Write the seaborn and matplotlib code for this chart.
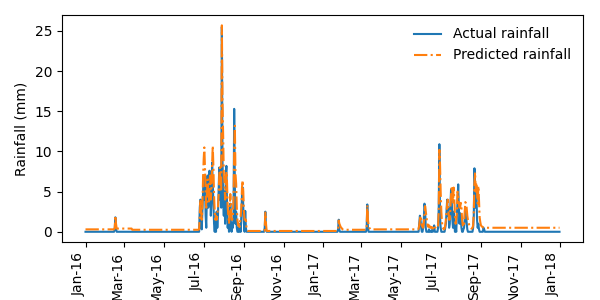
import pandas as pd
import numpy as np
import matplotlib
matplotlib.use("Agg")
import matplotlib.pyplot as plt
import matplotlib.dates as mdates
import seaborn as sns

# Daily record, Jan 2016 - Dec 2017
first_day = "2016-01-01"
last_day = "2017-12-31"

# Predicted rainfall on dry days (actual is 0 there), read as flat levels
pred_base_start = ["2016-01-01", "2016-02-18", "2016-03-13", "2016-09-07",
                   "2017-01-27", "2017-03-12", "2017-09-08"]
pred_base_end = ["2016-02-17", "2016-03-12", "2016-06-23", "2017-01-26",
                 "2017-03-11", "2017-05-26", "2017-12-31"]
pred_base_level = [0.3, 0.4, 0.25, 0.1, 0.25, 0.3, 0.5]

# Rain spells: first day of each spell, then daily actual / predicted values
spell_start = ["2016-02-15", "2016-06-24", "2016-10-03", "2017-01-24",
               "2017-03-09", "2017-05-27"]

feb16_actual = [0.3, 1.8, 0.4]
feb16_pred = [0.5, 2.0, 1.0]

wet16_actual = [0.0, 3.0, 4.0, 1.0, 0.3, 2.5, 5.0, 7.0, 4.0, 6.5,
                2.0, 0.5, 5.0, 7.0, 3.0, 4.5, 7.6, 6.0, 2.0, 4.0,
                8.6, 6.0, 3.0, 1.0, 0.0, 1.5, 0.0, 2.5, 0.5, 2.0,
                5.0, 8.0, 4.0, 6.0, 3.0, 25.5, 9.0, 4.0, 2.0, 5.0,
                1.0, 7.0, 8.2, 3.0, 0.5, 1.5, 0.0, 0.5, 3.5, 1.0,
                0.0, 1.0, 0.5, 2.0, 15.3, 6.0, 1.0, 2.5, 0.5, 0.0,
                0.0, 0.5, 0.0, 1.0, 0.0, 2.0, 4.5, 5.5, 3.0, 1.0,
                0.0, 2.6, 0.5, 0.0, 0.0]
wet16_pred = [0.3, 2.0, 4.0, 3.0, 1.5, 3.0, 6.5, 9.0, 10.5, 8.0,
              5.0, 3.0, 4.5, 6.5, 5.0, 3.5, 6.5, 7.0, 4.0, 5.5,
              8.5, 10.7, 8.0, 4.5, 2.5, 1.5, 2.0, 1.5, 2.0, 3.0,
              4.5, 7.0, 8.0, 5.0, 5.0, 25.7, 16.1, 12.0, 7.0, 6.5,
              4.0, 5.0, 7.5, 6.0, 3.0, 2.0, 1.0, 2.5, 4.7, 3.0,
              1.5, 1.5, 2.0, 4.0, 10.0, 13.2, 7.2, 6.0, 3.0, 1.5,
              0.8, 1.0, 0.6, 1.2, 2.0, 3.0, 5.5, 6.4, 5.0, 2.5,
              1.5, 1.5, 1.5, 0.5, 0.2]

oct16_actual = [0.5, 2.5, 0.3]
oct16_pred = [0.3, 2.4, 1.0]

jan17_actual = [0.3, 1.5, 0.2, 0.0, 0.0, 0.0, 0.0, 0.0]
jan17_pred = [0.3, 1.4, 1.0, 0.8, 0.6, 0.5, 0.4, 0.3]

mar17_actual = [0.5, 3.4, 0.5, 0.0, 0.0, 0.0]
mar17_pred = [0.5, 3.3, 1.5, 0.8, 0.5, 0.4]

wet17_actual = [0.0, 0.0, 1.0, 2.0, 1.5, 0.5, 0.0, 0.0, 0.5, 1.5,
                3.5, 3.0, 0.5, 0.0, 0.0, 0.0, 0.0, 0.3, 0.0, 0.0,
                0.0, 0.2, 0.0, 0.0, 0.5, 0.8, 0.0, 0.0, 0.0, 0.0,
                0.0, 0.5, 3.0, 10.9, 2.0, 0.5, 0.0, 0.0, 0.0, 0.0,
                0.0, 0.0, 0.5, 1.0, 2.5, 4.0, 2.0, 3.0, 0.5, 1.0,
                3.0, 5.3, 4.0, 1.5, 0.5, 2.5, 1.0, 0.0, 0.5, 0.0,
                2.0, 4.0, 5.9, 3.0, 1.0, 2.3, 1.5, 0.5, 0.0, 0.0,
                0.3, 0.5, 1.5, 2.9, 2.0, 1.0, 0.3, 0.0, 0.0, 0.0,
                0.0, 0.0, 0.0, 0.0, 0.0, 0.5, 2.0, 7.9, 6.0, 3.0,
                5.1, 1.5, 0.5, 1.0, 0.3, 0.0, 0.0, 0.0, 0.0, 0.0,
                0.0, 0.5, 0.3, 0.0]
wet17_pred = [0.3, 0.4, 0.8, 1.5, 2.0, 1.5, 0.8, 0.6, 0.5, 1.0,
              2.0, 3.2, 2.5, 2.0, 1.2, 0.8, 0.6, 0.8, 0.7, 0.5,
              0.5, 0.6, 0.5, 0.4, 0.6, 0.8, 0.6, 0.5, 0.4, 0.4,
              0.5, 0.8, 2.5, 10.2, 8.4, 5.0, 2.5, 1.2, 0.6, 0.4,
              0.3, 0.4, 0.8, 1.5, 2.5, 3.5, 4.0, 2.5, 1.5, 1.5,
              3.0, 4.5, 5.7, 5.0, 3.5, 5.5, 4.0, 2.0, 1.0, 1.5,
              2.5, 5.0, 4.5, 3.5, 3.0, 3.0, 3.6, 3.0, 1.5, 0.8,
              0.6, 1.0, 2.5, 3.7, 3.5, 3.0, 2.0, 1.5, 1.2, 0.8,
              0.6, 0.5, 0.4, 0.4, 0.5, 0.8, 2.5, 6.0, 7.4, 5.0,
              6.1, 5.0, 3.5, 5.7, 4.0, 1.8, 1.2, 0.8, 0.7, 0.6,
              0.6, 0.5, 0.5, 0.5]

spell_actual = [feb16_actual, wet16_actual, oct16_actual, jan17_actual,
                mar17_actual, wet17_actual]
spell_pred = [feb16_pred, wet16_pred, oct16_pred, jan17_pred,
              mar17_pred, wet17_pred]

# Build the daily table
dates = pd.date_range(first_day, last_day, freq="D")
df = pd.DataFrame({"Actual": 0.0, "Predicted": np.nan}, index=dates)
for s, e, lvl in zip(pred_base_start, pred_base_end, pred_base_level):
    df.loc[s:e, "Predicted"] = lvl
for start, a, p in zip(spell_start, spell_actual, spell_pred):
    days = pd.date_range(start, periods=len(a), freq="D")
    df.loc[days, "Actual"] = a
    df.loc[days, "Predicted"] = p

fig, ax = plt.subplots(figsize=(6, 3), dpi=100)
sns.lineplot(x=df.index, y=df["Actual"], ax=ax, color="#1f77b4",
             linewidth=1.5, label="Actual rainfall")
sns.lineplot(x=df.index, y=df["Predicted"], ax=ax, color="#ff7f0e",
             linewidth=1.5, linestyle="-.", label="Predicted rainfall")

ax.xaxis.set_major_locator(mdates.MonthLocator(bymonth=[1, 3, 5, 7, 9, 11]))
ax.xaxis.set_major_formatter(mdates.DateFormatter("%b-%y"))
plt.setp(ax.get_xticklabels(), rotation=90, ha="right")
ax.set_xlabel("")
ax.set_ylabel("Rainfall (mm)")
ax.legend(frameon=False, loc="upper right")

fig.subplots_adjust(left=0.103, right=0.972, top=0.95, bottom=0.193)
fig.savefig("out.png")
